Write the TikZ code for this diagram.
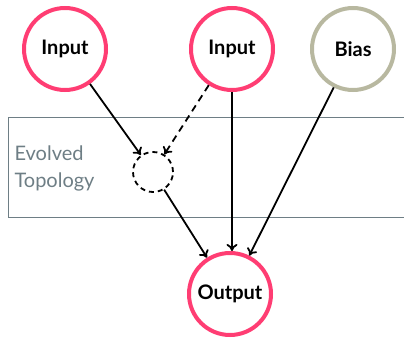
\documentclass[tikz,border=0pt]{standalone}
\usepackage{fontspec}
\setmainfont{Lato}
\usetikzlibrary{arrows.meta}
\definecolor{neuron}{HTML}{FF3D73}
\definecolor{biascol}{HTML}{B8B8A0}
\definecolor{regioncol}{HTML}{6E7E85}
\tikzset{
  unit/.style={circle, line width=4pt, minimum size=82pt, inner sep=0pt, font=\fontsize{20}{24}\selectfont\bfseries},
  inunit/.style={unit, draw=neuron},
  biasunit/.style={unit, draw=biascol},
  hiddenunit/.style={circle, draw, dash pattern=on 5pt off 4pt, line width=1.8pt, minimum size=40pt, inner sep=0pt},
  link/.style={line width=1.8pt, -{To[length=7pt,width=11pt,line width=1.8pt]}},
  dashlink/.style={link, dash pattern=on 7pt off 5pt},
}
\begin{document}
\begin{tikzpicture}[x=1pt, y=-1pt]
  \useasboundingbox (0,0) rectangle (404,345);
  \clip (0,0) rectangle (404,345);
  % evolved region
  \draw[regioncol, line width=1pt] (410,117) -- (8,117) -- (8,217) -- (410,217);
  \node[regioncol, anchor=west, align=left, font=\fontsize{20}{27}\selectfont] (label) at (11,168) {Evolved\\Topology};
  % units
  \node[inunit] (in1) at (65,49) {Input};
  \node[inunit] (in2) at (232,49) {Input};
  \node[biasunit] (bias) at (353,49) {Bias};
  \node[inunit] (out) at (230,294) {Output};
  \node[hiddenunit] (hid) at (153,172) {};
  % connections
  \draw[link] (in1) -- (hid);
  \draw[dashlink] (in2) -- (hid);
  \draw[link] (hid) -- (out);
  \draw[link] (in2.south) -- (in2.south |- out.north);
  \draw[link] (bias) -- (out);
\end{tikzpicture}
\end{document}
